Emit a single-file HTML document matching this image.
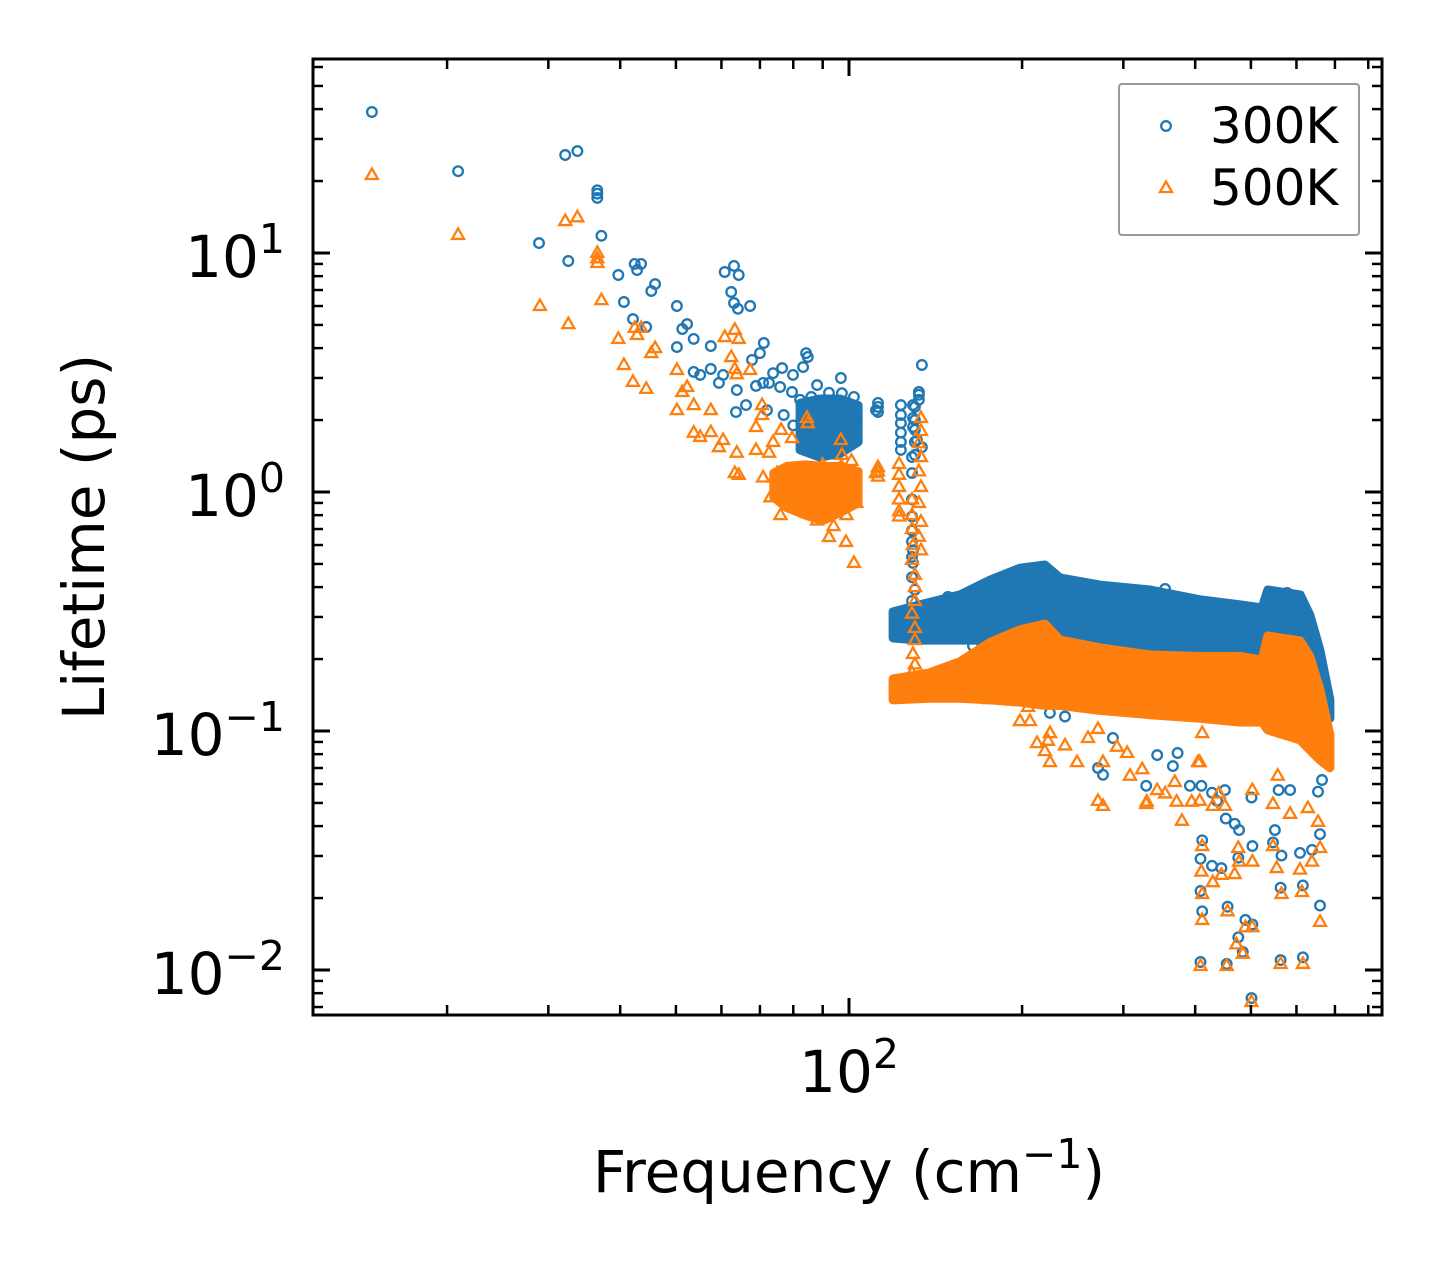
<!DOCTYPE html>
<html><head><meta charset="utf-8">
<style>
html,body{margin:0;padding:0;background:#fff;}
svg{display:block;}
text{font-family:"DejaVu Sans","Liberation Sans",sans-serif;fill:#000;}
</style></head>
<body>
<svg id="chart" width="1442" height="1265" viewBox="0 0 1442 1265" xmlns="http://www.w3.org/2000/svg">
<rect x="0" y="0" width="1442" height="1265" fill="#fff"/>
<g id="plot"></g>
<g id="axes"></g>
<text x="849" y="1192" font-size="58" text-anchor="middle">Frequency (cm<tspan dy="-24" font-size="41">−1</tspan><tspan dy="24">)</tspan></text>
<text transform="translate(104,537) rotate(-90)" font-size="58" text-anchor="middle">Lifetime (ps)</text>
<g>
<rect x="1119" y="84" width="240" height="151" rx="3" fill="#fff" stroke="#999" stroke-width="2"/>
<circle cx="1166" cy="126" r="4.8" fill="none" stroke="#1f77b4" stroke-width="2.3"/>
<text x="1210" y="143" font-size="50">300K</text>
<polygon points="1166,181.5 1172,192 1160,192" fill="none" stroke="#ff7f0e" stroke-width="2.3"/>
<text x="1210" y="205" font-size="50">500K</text>
</g>
</svg>
<script>
// ---- data ----
const xTickValues = [100];
const xTickLabels = ["2"];
const yTickValues = [10, 1, 0.1, 0.01];
const yTickExps = ["1", "0", "−1", "−2"];

// 300K individual modes [frequency, lifetime]
const freq300 = [14.8,20.9,32.1,33.7,36.5,36.5,36.5,37.1,28.9,32.5,39.7,42.4,43.5,42.8,46.0,45.3,40.6,50.2,42.1,44.4,52.3,51.3,53.7,57.5,50.2,60.8,63.1,64.3,62.4,63.1,64.1,67.3,71.1,70.0,67.8,53.7,55.1,57.5,60.4,59.4,63.8,68.9,72.6,76.5,79.9,73.8,84.2,84.8,83.2,96.8,97.2,133.9,63.6,66.2,112.3,112.3,112.3,111.4,123.1,123.1,123.1,123.1,123.1,123.1,130.2,130.2,130.2,130.2,130.2,132.3,132.3,132.3,129.2,129.2,129.2,131.3,133.9,128.7,128.7,128.7,128.7,128.7,128.7,129.2,128.7,129.2,128.7,130.2,128.7,
70.9,75.9,79.6,82.2,86,89,92.3,95,100,103,101,98,90,85,80,77,72,94,88,102,
164.3,223.6,237.5,217.4,200.7,271.0,276.5,287.7,343.5,365.9,372.8,328.7,391.7,410.0,395.8,427.8,436.6,450.6,411.4,408.6,427.8,444.3,452.2,468.5,476.9,475.3,502.9,501.1,408.6,411.4,455.4,489.1,502.9,475.3,484.1,408.6,453.8,501.1,550.4,565.2,546.2,563.1,563.1,558.7,584.9,608.6,638.5,615.8,615.8,659.5,659.5,654.2,664.8,654.2,578.0,591.7,148.6,143.9,302,354.6];
const life300 = [38.9,22.0,25.7,26.7,18.3,17.7,17.0,11.8,11.0,9.26,8.09,9.0,9.0,8.49,7.41,6.93,6.24,6.0,5.29,4.90,5.04,4.81,4.37,4.08,4.04,8.33,8.83,8.09,6.87,6.18,5.84,6.00,4.20,3.81,3.57,3.18,3.09,3.27,3.09,2.86,2.67,2.78,2.86,3.30,3.09,3.14,3.81,3.67,3.33,3.00,2.59,3.40,2.16,2.31,2.36,2.27,2.16,2.20,2.31,2.10,1.94,1.77,1.62,1.50,2.27,2.00,1.82,1.62,1.43,2.62,2.55,2.43,2.31,2.04,1.87,1.65,1.54,1.40,1.20,0.93,0.79,0.69,0.62,0.57,0.535,0.505,0.44,0.39,0.35,
2.86,2.75,2.62,2.43,2.5,2.2,2.6,2.2,2.3,2.0,1.8,1.6,1.55,1.75,1.9,2.1,2.2,1.45,2.8,2.5,
0.227,0.119,0.115,0.136,0.172,0.0700,0.0656,0.0935,0.0793,0.0713,0.0809,0.0590,0.0590,0.0590,0.330,0.0552,0.0510,0.0566,0.0349,0.0292,0.0273,0.0267,0.0430,0.0409,0.0385,0.0295,0.0330,0.0527,0.0214,0.0176,0.0184,0.0162,0.0155,0.0137,0.0119,0.0108,0.0106,0.00763,0.0385,0.0301,0.0342,0.0221,0.0110,0.0566,0.0566,0.0309,0.0318,0.0226,0.0113,0.0186,0.0370,0.0557,0.0624,0.178,0.378,0.337,0.364,0.343,0.378,0.393];

// 500K individual modes
const freq500 = [14.8,20.9,29.0,32.5,32.1,33.7,36.5,36.5,36.5,37.1,39.7,40.6,42.1,44.4,42.4,43.5,42.8,46.0,45.3,50.2,50.2,52.3,51.3,53.7,57.5,53.7,55.1,57.5,60.8,63.3,64.3,62.4,63.3,63.8,67.3,60.4,59.4,63.8,63.3,64.3,70.6,70.6,68.9,76.2,79.6,73.8,84.5,84.8,96.8,97.2,68.9,72.6,92.3,98.8,102.0,112.3,112.3,112.3,111.4,122.2,122.2,122.2,122.2,122.2,122.2,133.4,133.4,132.3,133.4,132.3,133.4,132.3,133.4,132.3,133.4,128.7,128.7,128.7,129.2,128.7,130.2,130.2,130.2,128.7,130.2,130.2,129.2,130.2,128.7,
70.9,75,78,81,86,90,95,100,103,99,94,88,84,76,73,101,97,
175.9,191.9,204.8,198.3,206.4,212.3,223.6,221.8,219.1,223.6,237.5,249.2,260.4,271.0,276.5,271.0,276.5,308.1,323.5,292.4,304.6,328.7,329.4,343.5,354.6,368.6,379.3,371.4,394.4,407.3,407.3,411.4,404.5,429.2,439.6,450.6,411.4,410.0,411.4,411.4,429.2,444.3,455.4,468.5,475.3,476.9,489.1,471.8,484.1,502.9,502.9,502.9,408.6,453.8,501.1,546.2,554.5,565.2,563.1,546.2,584.9,556.7,608.6,613.4,615.8,628.1,638.5,654.2,659.5,659.5];
const life500 = [21.2,11.9,6.0,5.04,13.6,14.1,10.0,9.5,9.08,6.35,4.37,3.40,2.89,2.70,4.86,4.86,4.54,4.0,3.81,3.24,2.20,2.75,2.62,2.31,2.20,1.77,1.70,1.78,4.45,4.77,4.37,3.67,3.27,3.11,3.24,1.65,1.54,1.46,1.20,1.18,2.31,2.10,1.87,1.82,1.68,1.62,2.04,1.94,1.65,1.43,1.50,1.46,0.648,0.618,0.505,1.27,1.22,1.16,1.20,1.31,1.18,1.05,0.93,0.83,0.79,2.04,1.80,1.60,1.40,1.22,1.05,0.90,0.75,0.65,0.57,0.93,0.80,0.70,0.60,0.52,0.45,0.40,0.35,0.31,0.27,0.24,0.21,0.19,0.175,
1.15,1.2,1.05,0.95,1.1,1.3,1.0,1.2,0.9,0.8,0.72,0.76,0.85,0.8,0.95,1.35,1.28,
0.136,0.139,0.126,0.110,0.110,0.0890,0.0980,0.0910,0.0824,0.0741,0.0870,0.0741,0.0935,0.102,0.0741,0.0510,0.0486,0.0650,0.0692,0.0859,0.0809,0.0495,0.0506,0.0566,0.0548,0.0612,0.0421,0.0506,0.0506,0.0510,0.0741,0.0980,0.0741,0.0486,0.0548,0.0486,0.0330,0.0258,0.0208,0.0162,0.0233,0.0250,0.0176,0.0252,0.0324,0.0284,0.0151,0.0128,0.0117,0.0284,0.0151,0.0566,0.0104,0.0104,0.00735,0.0330,0.0267,0.0208,0.0106,0.0495,0.0450,0.0650,0.0263,0.0212,0.0106,0.0476,0.0284,0.0417,0.0324,0.0159];

// dense mode bands (envelopes of overlapping markers)
const band300Freq = [119.3,132.8,156,176,198.3,219.1,232.8,273,334,408,479,523,535,609,633,659,686];
const band300High = [0.315,0.337,0.371,0.428,0.480,0.495,0.437,0.408,0.389,0.354,0.337,0.327,0.389,0.371,0.306,0.218,0.135];
const band300Low  = [0.245,0.240,0.240,0.240,0.240,0.229,0.218,0.208,0.198,0.189,0.183,0.183,0.164,0.149,0.135,0.122,0.113];
const band500Freq = [119.3,138,156,176,198.3,219.1,232.8,273,334,408,479,523,535,609,633,659,686];
const band500High = [0.165,0.175,0.195,0.235,0.265,0.280,0.240,0.223,0.208,0.205,0.205,0.198,0.250,0.238,0.205,0.149,0.0963];
const band500Low  = [0.135,0.137,0.137,0.135,0.132,0.128,0.128,0.122,0.117,0.113,0.109,0.109,0.101,0.0917,0.0834,0.0757,0.0702];
const cluster300Freq = [82.2,89.0,96.5,103.7];
const cluster300High = [2.35,2.45,2.45,2.30];
const cluster300Low  = [1.50,1.40,1.45,1.62];
const cluster500Freq = [74.0,78.0,84.0,90.0,96.5,103.7];
const cluster500High = [1.20,1.28,1.30,1.28,1.28,1.22];
const cluster500Low  = [0.95,0.86,0.80,0.76,0.82,0.90];

// ---- scales ----
const L=313, R=1382, T=59, B=1015;
const X0=849, XDEC=575;
const Y0=492, YDEC=239;
function sx(f){return X0+(Math.log10(f)-2)*XDEC;}
function sy(t){return Y0-Math.log10(t)*YDEC;}

const NS="http://www.w3.org/2000/svg";
const plot=document.getElementById('plot');
const axes=document.getElementById('axes');
function mk(tag,attrs,parent){const e=document.createElementNS(NS,tag);for(const k in attrs)e.setAttribute(k,attrs[k]);parent.appendChild(e);return e;}

const clip=mk('clipPath',{id:'clipP'},document.getElementById('chart'));
mk('rect',{x:L,y:T,width:R-L,height:B-T},clip);
plot.setAttribute('clip-path','url(#clipP)');

function band(fr,hi,lo,color,name){
  let pts=[];
  for(let i=0;i<fr.length;i++)pts.push(sx(fr[i]).toFixed(1)+','+sy(hi[i]).toFixed(1));
  for(let i=fr.length-1;i>=0;i--)pts.push(sx(fr[i]).toFixed(1)+','+sy(lo[i]).toFixed(1));
  const p=mk('polygon',{points:pts.join(' '),fill:color,stroke:color,'stroke-width':9,'stroke-linejoin':'round'},plot);
  
  
}
function circles(fr,lt){
  for(let i=0;i<fr.length;i++){
    const c=mk('circle',{cx:sx(fr[i]).toFixed(1),cy:sy(lt[i]).toFixed(1),r:4.8,fill:'none',stroke:'#1f77b4','stroke-width':2.3},plot);
    
    
  }
}
function tris(fr,lt){
  for(let i=0;i<fr.length;i++){
    const x=sx(fr[i]),y=sy(lt[i]);
    const t=mk('polygon',{points:`${x},${y-6.5} ${x+6},${y+4} ${x-6},${y+4}`,fill:'none',stroke:'#ff7f0e','stroke-width':2.3},plot);
    
    
  }
}
band(cluster300Freq,cluster300High,cluster300Low,'#1f77b4','band-300k-low-freq');
band(band300Freq,band300High,band300Low,'#1f77b4','band-300k');
circles(freq300,life300);
band(cluster500Freq,cluster500High,cluster500Low,'#ff7f0e','band-500k-low-freq');
band(band500Freq,band500High,band500Low,'#ff7f0e','band-500k');
tris(freq500,life500);

// ---- axes ----
const frame=mk('rect',{x:L,y:T,width:R-L,height:B-T,fill:'none',stroke:'#000','stroke-width':3},axes);


function tick(x1,y1,x2,y2,w){mk('line',{x1,y1,x2,y2,stroke:'#000','stroke-width':w},axes);}
for(let d=-3;d<=2;d++){
  for(let m=1;m<=9;m++){
    const v=m*Math.pow(10,d), y=sy(v);
    if(y<T+1||y>B-1)continue;
    const len=m===1?17:10, w=m===1?3:2.5;
    tick(L,y,L+len,y,w); tick(R,y,R-len,y,w);
  }
}
for(let d=1;d<=2;d++){
  for(let m=1;m<=9;m++){
    const v=m*Math.pow(10,d), x=sx(v);
    if(x<L+1||x>R-1)continue;
    const len=m===1?17:10, w=m===1?3:2.5;
    tick(x,B,x,B-len,w); tick(x,T,x,T+len,w);
  }
}
for(let i=0;i<yTickValues.length;i++){
  const y=sy(yTickValues[i]);
  const t=mk('text',{x:285,y:y+24,'font-size':58,'text-anchor':'end'},axes);
  
  
  t.appendChild(document.createTextNode('10'));
  const s=mk('tspan',{dy:-24,'font-size':41},t);
  s.textContent=yTickExps[i];
}
for(let i=0;i<xTickValues.length;i++){
  const x=sx(xTickValues[i]);
  const t=mk('text',{x:x,y:1092,'font-size':58,'text-anchor':'middle'},axes);
  
  
  t.appendChild(document.createTextNode('10'));
  const s=mk('tspan',{dy:-24,'font-size':41},t);
  s.textContent=xTickLabels[i];
}
</script>
</body></html>
